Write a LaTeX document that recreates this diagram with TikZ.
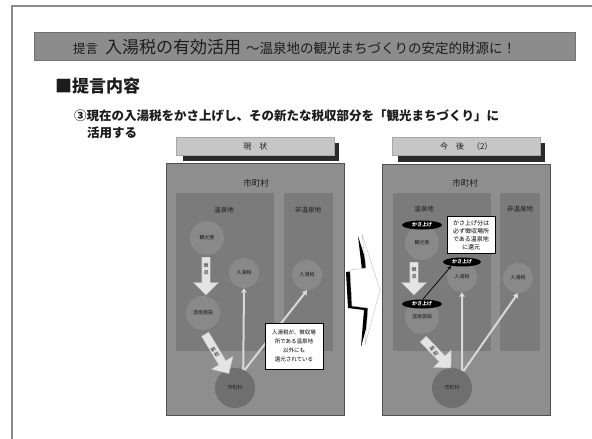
\documentclass[tikz,border=0pt]{standalone}
\usepackage{fontspec}
\setmainfont{Noto Sans CJK JP}
\usetikzlibrary{shapes.arrows,shapes.geometric,arrows.meta}
\newcommand{\fsz}[2]{\fontsize{#1}{#2}\selectfont}
\newcommand{\shaftw}{\rule{0pt}{8pt}}
\definecolor{bordergray}{HTML}{8A8A8A}
\definecolor{barfill}{HTML}{8C8C8C}
\definecolor{barline}{HTML}{737373}
\definecolor{panelfill}{HTML}{8E8E8E}
\definecolor{panelline}{HTML}{505050}
\definecolor{areafill}{HTML}{7B7B7B}
\definecolor{circfill}{HTML}{898989}
\definecolor{cityfill}{HTML}{6F6F6F}
\definecolor{tabfill}{HTML}{C6C6C6}
\definecolor{tabline}{HTML}{A8A8A8}
\definecolor{tabshade}{HTML}{2B2B2B}
\definecolor{arrfill}{HTML}{E4E4E4}
\definecolor{arrline}{HTML}{B8B8B8}
\definecolor{thinc}{HTML}{D8D8D8}
\definecolor{txt}{HTML}{1C1C1C}
\tikzset{
  panel/.style={draw=panelline, fill=panelfill, line width=0.8pt, inner sep=0pt, anchor=north west},
  areabox/.style={fill=areafill, inner sep=0pt, anchor=north west},
  lbl/.style={text=txt, inner sep=0pt, font=\fsz{6.5}{8}},
  biglbl/.style={text=txt, inner sep=0pt, font=\fsz{8.5}{10}},
  circ/.style={circle, fill=circfill, inner sep=0pt, text=txt, font=\fsz{5}{6}},
  citycirc/.style={circle, fill=cityfill, inner sep=0pt, text=txt, font=\fsz{5}{6}},
  fatarrow/.style={single arrow, draw=arrline, fill=arrfill, line width=0.4pt, inner sep=0pt,
    single arrow head extend=8.5pt, single arrow tip angle=90, anchor=tail},
  arrtext/.style={text=txt, inner sep=0pt, align=center, font=\fsz{5}{6.5}},
  thinarr/.style={draw=thinc, line width=2pt, -{Triangle[width=5.5pt,length=4.5pt]}},
  blackarr/.style={draw=black, line width=0.7pt, -{Stealth[width=3.5pt,length=4pt]}},
  callout/.style={draw=black, fill=white, line width=0.6pt, align=center, inner sep=0pt, text=black},
  kasa/.style={ellipse, fill=black, text=white, inner sep=0pt, minimum width=40pt, minimum height=9pt, font=\bfseries\fsz{5}{6}},
  tabbox/.style={draw=tabline, fill=tabfill, line width=0.5pt, inner sep=0pt, anchor=north west, text=txt, font=\fsz{8}{9}},
  tabshadow/.style={fill=tabshade, inner sep=0pt, anchor=north west},
  headtxt/.style={text=txt, inner sep=0pt, anchor=west}
}
\begin{document}
\begin{tikzpicture}[x=1pt,y=-1pt]
\useasboundingbox[fill=white] (0,0) rectangle (592,439);
% frame lines
\draw[bordergray, line width=1.3pt] (12,439) -- (12,6) -- (592,6);
% title bar
\node[draw=barline, fill=barfill, line width=0.5pt, inner sep=0pt, anchor=north west,
  minimum width=541pt, minimum height=28pt] (bar) at (34,32) {};
\node[headtxt] (title) at (73,47) {{\fsz{12.5}{15}提言}\hspace{7pt}{\fsz{17}{20}入湯税の有効活用}\hspace{5pt}{\fsz{13.5}{15}～温泉地の観光まちづくりの安定的財源に！}};
\node[headtxt, font=\bfseries\fsz{17}{20}] (sect) at (55,86) {■提言内容};
\node[headtxt, font=\bfseries\fsz{12.5}{15}] (line1) at (74,116) {③現在の入湯税をかさ上げし、その新たな税収部分を「観光まちづくり」に};
\node[headtxt, font=\bfseries\fsz{12.5}{15}] (line2) at (87,133) {活用する};

% ---------- left panel ----------
\node[tabshadow, minimum width=156pt, minimum height=18pt] (ts1) at (183,143) {};
\node[tabbox, minimum width=158pt, minimum height=18pt] (tab1) at (176,137) {現\quad 状};
\node[panel, minimum width=178pt, minimum height=252pt] (p1) at (166,163) {};
\node[areabox, minimum width=98pt, minimum height=158pt] (on1) at (176,193) {};
\node[areabox, minimum width=49pt, minimum height=158pt] (non1) at (284,193) {};
\node[biglbl] (city1) at (256,183) {市町村};
\node[lbl] (onl1) at (224,210) {温泉地};
\node[lbl] (nonl1) at (308,210) {非温泉地};
\node[circ, minimum size=34pt] (kk1) at (207,238) {観光客};
\node[circ, minimum size=30pt] (nt1) at (244,273) {入湯税};
\node[circ, minimum size=30pt] (nt2) at (307,275) {入湯税};
\node[circ, minimum size=34pt] (sh1) at (203,313) {温泉施設};
\node[citycirc, minimum size=40pt] (sc1) at (235,388) {市町村};
\draw[thinarr] (sc1.66) -- (nt1.south);
\draw[thinarr] (sc1.62) -- (nt2.south);
\node[fatarrow, rotate=-90, minimum height=38pt] (fa1) at (206,257) {\shaftw};
\node[arrtext] (fa1t) at (206,269) {徴\\収};
\node[fatarrow, rotate=-59, minimum height=46pt] (fa2) at (205,334) {\shaftw};
\node[arrtext, rotate=31] (fa2t) at (215,352) {納\\税};
\node[callout, minimum width=58pt, minimum height=46pt, font=\fsz{5.5}{9}] (co1) at (294,346)
  {入湯税が、徴収場\\所である温泉地\\以外にも\\還元されている};

% ---------- lightning ----------
\fill[black] (358,236) -- (376,292) -- (361,347) -- (364,310) -- (348,308) -- (346,272) -- (362,270) -- cycle;
\filldraw[fill=white, draw=black!25, line width=0.4pt] (362,234) -- (380,290) -- (365,345) -- (368,308) -- (352,306) -- (350,270) -- (366,268) -- cycle;

% ---------- right panel ----------
\node[tabshadow, minimum width=147pt, minimum height=19pt] (ts2) at (398,143) {};
\node[tabbox, minimum width=148pt, minimum height=18pt] (tab2) at (392,137) {今\quad 後\quad （2）};
\node[panel, minimum width=168pt, minimum height=251pt] (p2) at (382,164) {};
\node[areabox, minimum width=98pt, minimum height=158pt] (on2) at (393,193) {};
\node[areabox, minimum width=40pt, minimum height=158pt] (non2) at (500,193) {};
\node[biglbl] (city2) at (465,183) {市町村};
\node[lbl] (onl2) at (424,209) {温泉地};
\node[lbl] (nonl2) at (520,209) {非温泉地};
\node[circ, minimum size=34pt] (kk2) at (422,243) {観光客};
\node[circ, minimum size=30pt] (nt3) at (462,277) {入湯税};
\node[circ, minimum size=30pt] (nt4) at (518,278) {入湯税};
\node[circ, minimum size=34pt] (sh2) at (422,317) {温泉施設};
\node[citycirc, minimum size=40pt] (sc2) at (452,388) {市町村};
\draw[thinarr] (sc2.60) -- (nt3.south);
\draw[thinarr] (sc2.56) -- (nt4.south);
\node[fatarrow, rotate=-90, minimum height=33pt] (fa3) at (414,262) {\shaftw};
\node[arrtext] (fa3t) at (414,273) {徴\\収};
\node[fatarrow, rotate=-46, minimum height=40pt] (fa4) at (423,339) {\shaftw};
\node[arrtext, rotate=31] (fa4t) at (434,351) {納\\税};
\node[kasa] (ks1) at (422,225) {かさ上げ};
\node[kasa, minimum width=38pt] (ks2) at (462,262) {かさ上げ};
\node[kasa] (ks3) at (422,304) {かさ上げ};
\draw[blackarr] (ks3.80) -- (ks2.200);
\node[callout, minimum width=48pt, minimum height=37pt, font=\fsz{6}{8}] (co2) at (471,235)
  {かさ上げ分は\\必ず徴収場所\\である温泉地\\に還元};
\end{tikzpicture}
\end{document}
